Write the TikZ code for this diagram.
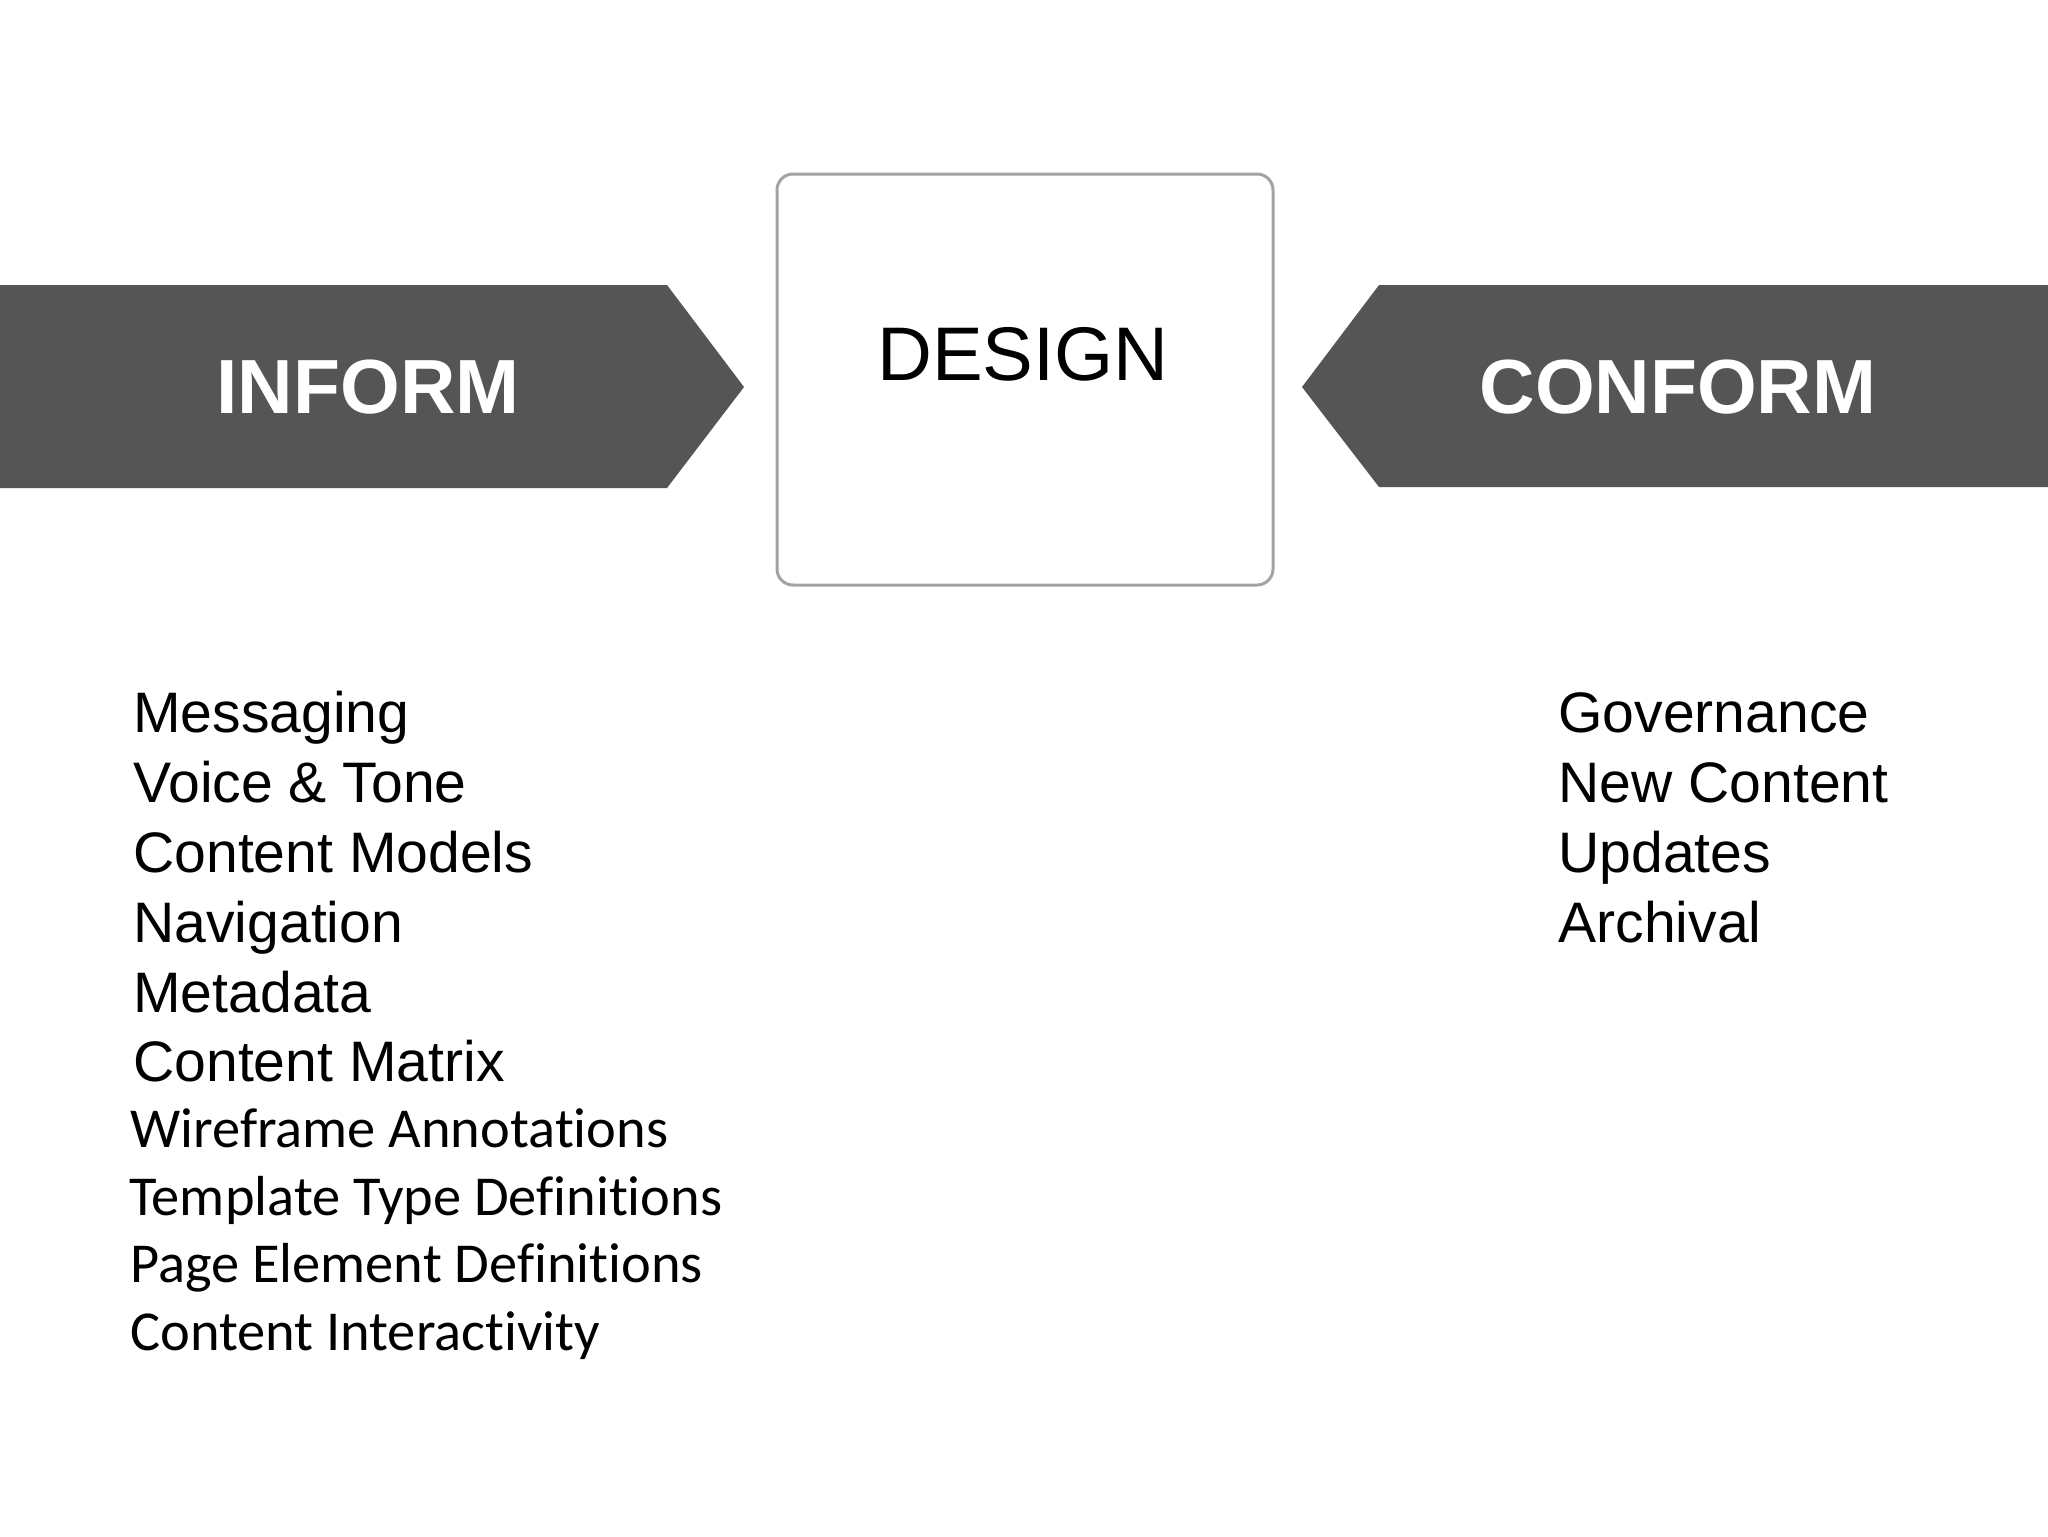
\documentclass[tikz,border=0pt]{standalone}
\usepackage{fontspec}
\setmainfont{Liberation Sans}
\newfontfamily\calib[Ligatures=NoCommon]{Carlito}
\definecolor{bandgray}{HTML}{555555}
\definecolor{boxgray}{HTML}{A3A3A3}
\begin{document}
\begin{tikzpicture}[x=0.5pt,y=-0.5pt,
  band/.style={fill=bandgray,draw=none},
  bandtext/.style={text=white,font=\fontsize{38.4pt}{44pt}\selectfont\bfseries,inner sep=0pt,anchor=base},
  listitem/.style={font=\fontsize{28.55pt}{33pt}\selectfont,inner sep=0pt,anchor=base west},
  listitemc/.style={font=\calib\fontsize{28.2pt}{33pt}\selectfont,inner sep=0pt,anchor=base west}]
\useasboundingbox (0,0) rectangle (2048,1536);
\fill[white] (0,0) rectangle (2048,1536);
% INFORM band
\path[band] (0,285) -- (667,285) -- (744,387) -- (667,488) -- (0,488) -- cycle;
\node[bandtext] (inform) at (368,413) {INFORM};
% CONFORM band
\path[band] (2048,285) -- (1379,285) -- (1302,387) -- (1379,487) -- (2048,487) -- cycle;
\node[bandtext] (conform) at (1678,413) {CONFORM};
% DESIGN box
\draw[boxgray,line width=1.5pt,rounded corners=8pt,fill=white] (777,174) rectangle (1273,585);
\node[font=\fontsize{38pt}{43pt}\selectfont,inner sep=0pt,anchor=base] (design) at (1023,380) {DESIGN};
% left list
\node[listitem] (l1) at (133,732) {Messaging};
\node[listitem] (l2) at (133,802) {Voice \& Tone};
\node[listitem] (l3) at (133,872) {Content Models};
\node[listitem] (l4) at (133,942) {Navigation};
\node[listitem] (l5) at (133,1012) {Metadata};
\node[listitem] (l6) at (133,1081) {Content Matrix};
\node[listitemc] (l7) at (130,1147) {Wireframe Annotations};
\node[listitemc] (l8) at (129,1215) {Template Type Definitions};
\node[listitemc] (l9) at (130,1282) {Page Element Definitions};
\node[listitemc] (l10) at (130,1350) {Content Interactivity};
% right list
\node[listitem] (r1) at (1558,732) {Governance};
\node[listitem] (r2) at (1558,802) {New Content};
\node[listitem] (r3) at (1558,872) {Updates};
\node[listitem] (r4) at (1558,942) {Archival};
\end{tikzpicture}
\end{document}
